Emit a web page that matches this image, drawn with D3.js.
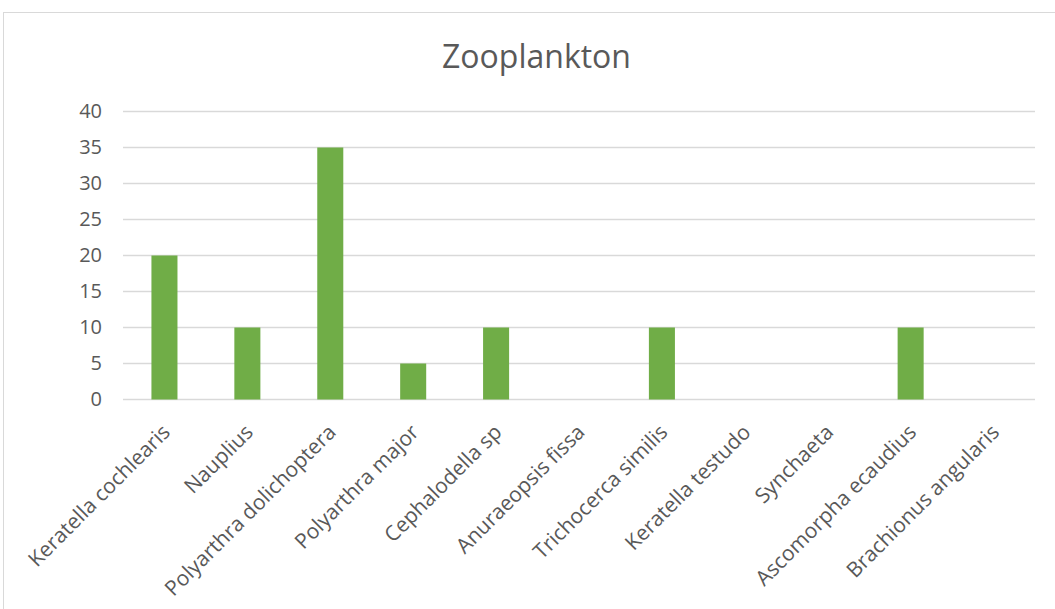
<!DOCTYPE html>
<html>
<head>
<meta charset="utf-8">
<script src="https://cdn.jsdelivr.net/npm/d3@7"></script>
<style>
  html, body { margin: 0; padding: 0; background: #fff; }
  svg { display: block; }
  text { font-family: "Open Sans", sans-serif; fill: #595959; }
</style>
</head>
<body>
<svg id="chart" width="1055" height="609"></svg>
<script>
const categories = ["Keratella cochlearis", "Nauplius", "Polyarthra dolichoptera", "Polyarthra major",
  "Cephalodella sp", "Anuraeopsis fissa", "Trichocerca similis", "Keratella testudo",
  "Synchaeta", "Ascomorpha ecaudius", "Brachionus angularis"];
const values = [20, 10, 35, 5, 10, 0, 10, 0, 0, 10, 0];
const yTicks = [0, 5, 10, 15, 20, 25, 30, 35, 40];
const title = "Zooplankton";

const svg = d3.select("#chart");
const W = 1055, H = 609;
const margin = { left: 123, right: 20, top: 111.5, bottom: 209.5 };
const plotW = W - margin.left - margin.right;
const plotH = H - margin.top - margin.bottom;
const FONT = "'Open Sans', sans-serif";

// outer chart border
svg.append("rect").attr("x", 3.5).attr("y", 12.5).attr("width", 1100).attr("height", 700)
  .attr("fill", "none").attr("stroke", "#D9D9D9").attr("stroke-width", 1);

svg.append("text").attr("x", 536.5).attr("y", 67.5).attr("text-anchor", "middle")
  .style("font-size", "32px").style("font-family", FONT).style("fill", "#595959").text(title);

const g = svg.append("g").attr("transform", `translate(${margin.left},${margin.top})`);

const x = d3.scaleBand().domain(categories).range([0, plotW]).paddingInner(0.686).paddingOuter(0.343);
const y = d3.scaleLinear().domain([0, 40]).range([plotH, 0]);

// gridlines
g.append("g").selectAll("line").data(yTicks).join("line")
  .attr("x1", 0).attr("x2", plotW)
  .attr("y1", d => y(d)).attr("y2", d => y(d))
  .attr("stroke", "#D9D9D9").attr("stroke-width", 1.3);

// y axis labels
const yAxis = g.append("g").call(d3.axisLeft(y).tickValues(yTicks).tickSize(0).tickPadding(21));
yAxis.select(".domain").remove();
yAxis.selectAll("text").style("font-size", "20px").style("fill", "#595959")
  .style("font-family", FONT);

// bars
g.append("g").selectAll("rect").data(values).join("rect")
  .attr("x", (d, i) => x(categories[i]))
  .attr("width", x.bandwidth())
  .attr("y", d => y(d))
  .attr("height", d => plotH - y(d))
  .attr("fill", "#70AD47");

// x axis labels
const xAxis = g.append("g").attr("transform", `translate(0,${plotH})`)
  .call(d3.axisBottom(x).tickSize(0).tickPadding(0));
xAxis.select(".domain").remove();
xAxis.selectAll("text")
  .style("font-size", "21px").style("fill", "#595959")
  .style("font-family", FONT)
  .attr("text-anchor", "end")
  .attr("dy", null)
  .attr("y", 0)
  .attr("transform", "translate(7,34) rotate(-45)");
</script>
</body>
</html>
